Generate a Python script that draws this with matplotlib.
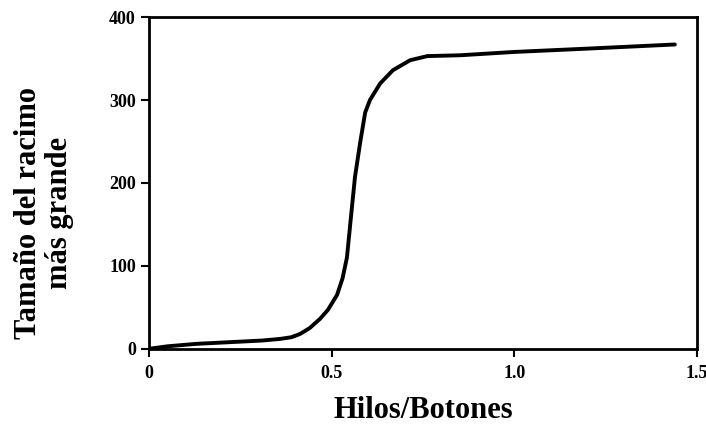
import matplotlib
matplotlib.use('Agg')
import matplotlib.pyplot as plt

# valores
hilos_botones = [0, 0.05, 0.13, 0.22, 0.31, 0.36, 0.39, 0.414, 0.44, 0.468, 0.49, 0.515,
                 0.53, 0.542, 0.551, 0.564, 0.578, 0.592, 0.605, 0.633, 0.668, 0.715,
                 0.762, 0.852, 1.0, 1.2, 1.44]
racimo = [0, 3, 6, 8, 10, 12, 14, 18, 25, 36, 47, 65,
          85, 110, 150, 207, 248, 285, 300, 320, 336, 348,
          353, 354, 358, 362, 367]

xticks = [0, 0.5, 1.0, 1.5]
xlabels = ['0', '0.5', '1.0', '1.5']
yticks = [0, 100, 200, 300, 400]

plt.rcParams['font.family'] = ['Liberation Serif', 'DejaVu Serif']

fig = plt.figure(figsize=(7.06, 4.28), dpi=100)
ax = fig.add_axes([0.211, 0.185, 0.776, 0.775])

ax.plot(hilos_botones, racimo, color='black', lw=2.8, solid_capstyle='round', solid_joinstyle='round')

ax.set_xlim(0, 1.5)
ax.set_ylim(0, 400)
ax.set_xticks(xticks)
ax.set_xticklabels(xlabels)
ax.set_yticks(yticks)
for s in ax.spines.values():
    s.set_linewidth(2)
ax.tick_params(axis='both', length=6, width=1.5, labelsize=13)
ax.tick_params(axis='x', pad=6)
for t in ax.get_xticklabels() + ax.get_yticklabels():
    t.set_fontweight('bold')

ax.set_xlabel('Hilos/Botones', fontsize=22, fontweight='bold', labelpad=10)
ax.set_ylabel('Tamaño del racimo\nmás grande', fontsize=22, fontweight='bold',
              linespacing=1.1)
ax.yaxis.set_label_coords(-0.137, 0.41)

fig.savefig('out.png', dpi=100)
